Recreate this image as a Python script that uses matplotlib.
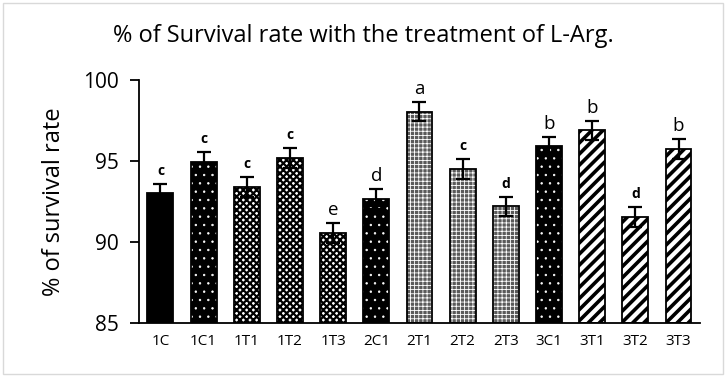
import numpy as np
import matplotlib
matplotlib.use("Agg")
from matplotlib import pyplot as plt

# data
groups = ["1C", "1C1", "1T1", "1T2", "1T3", "2C1", "2T1", "2T2", "2T3", "3C1", "3T1", "3T2", "3T3"]
survival = [93.0, 94.95, 93.4, 95.2, 90.55, 92.65, 98.05, 94.5, 92.2, 95.9, 96.9, 91.55, 95.75]
errors = [0.6, 0.6, 0.6, 0.6, 0.6, 0.6, 0.6, 0.6, 0.6, 0.6, 0.6, 0.6, 0.6]
letters = ["c", "c", "c", "c", "e", "d", "a", "c", "d", "b", "b", "d", "b"]
letter_bold = [True, True, True, True, False, False, False, True, True, False, False, True, False]

# fill style per bar: (facecolor, hatch, hatch colour, hatch linewidth)
styles = {
    "solid": ("black", "", "black", 1.0),
    "dots": ("black", "..", "white", 0.5),
    "check": ("white", "xxxxx", "black", 1.6),
    "grid": ("#5a5a5a", "++++", "white", 0.6),
    "stripe": ("white", "///", "black", 2.6),
}
bar_style = ["solid", "dots", "check", "check", "check", "dots", "grid", "grid", "grid",
             "dots", "stripe", "stripe", "stripe"]

plt.rcParams['font.family'] = ['Open Sans', 'DejaVu Sans']

fig = plt.figure(figsize=(7.27, 3.76), dpi=100)
ax = fig.add_axes([0.191, 0.141, 0.772, 0.646])

x = np.arange(len(groups))
for i in range(len(groups)):
    fc, hatch, hc, hlw = styles[bar_style[i]]
    with plt.rc_context({'hatch.linewidth': hlw}):
        b = ax.bar(x[i], survival[i] - 85, bottom=85, width=0.6, color=fc,
                   edgecolor=hc, hatch=hatch, linewidth=0)
        for p in b:
            if hasattr(p, "set_hatch_linewidth"):
                p.set_hatch_linewidth(hlw)
    ax.bar(x[i], survival[i] - 85, bottom=85, width=0.6, fill=False,
           edgecolor="black", linewidth=1.3)

ax.errorbar(x, survival, yerr=errors, fmt="none", ecolor="black",
            elinewidth=1.6, capsize=5, capthick=1.6)

for i in range(len(groups)):
    if letter_bold[i]:
        ax.text(x[i], survival[i] + errors[i] + 0.8, letters[i], ha="center", va="center",
                fontsize=10, fontweight="bold")
    else:
        ax.text(x[i], survival[i] + errors[i] + 0.8, letters[i], ha="center", va="center",
                fontsize=13.5)

ax.set_xlim(-0.5, len(groups) - 0.5)
ax.set_ylim(85, 100)
ax.set_yticks([85, 90, 95, 100])
ax.set_xticks(x)
ax.set_xticklabels(groups, fontsize=11)
ax.tick_params(axis="x", length=0, pad=8)
ax.tick_params(axis="y", labelsize=15, length=6.5, width=1.3, direction="out", pad=8)
ax.spines["top"].set_visible(False)
ax.spines["right"].set_visible(False)
ax.spines["left"].set_linewidth(1.3)
ax.spines["bottom"].set_linewidth(1.3)
ax.set_ylabel("% of survival rate", fontsize=17, labelpad=12)

fig.text(0.5, 0.905, "% of Survival rate with the treatment of L-Arg.", ha="center",
         va="center", fontsize=17)

# light frame round the whole chart
fig.patches.append(plt.Rectangle((0.004, 0.006), 0.99, 0.985, transform=fig.transFigure,
                                 fill=False, edgecolor="#d9d9d9", linewidth=1.0))

plt.savefig("out.png", dpi=100)
